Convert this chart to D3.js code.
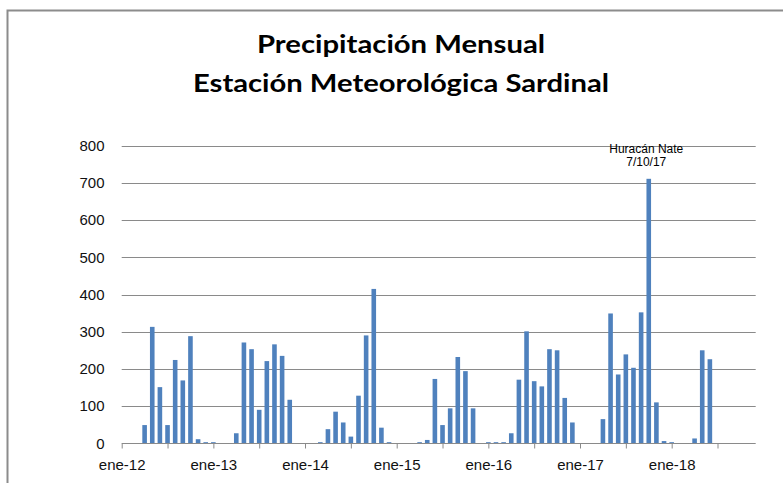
<!DOCTYPE html>
<html>
<head>
<meta charset="utf-8">
<script src="https://cdn.jsdelivr.net/npm/d3@7"></script>
<style>
  body { margin: 0; background: #fff; }
  svg { display: block; }
</style>
</head>
<body>
<svg id="canvas" width="783" height="483"></svg>
<script>
// Data: monthly rainfall (mm) from ene-12 to jun-18
let years = ["12", "13", "14", "15", "16", "17", "18"];
let monthNames = ["ene", "feb", "mar", "abr", "may", "jun", "jul", "ago", "sep", "oct", "nov", "dic"];

let rain2012 = [0, 0, 0, 49, 313, 151, 49, 224, 169, 288, 11, 3];
let rain2013 = [3, 0, 0, 27, 271, 253, 90, 221, 266, 235, 117, 0];
let rain2014 = [0, 0, 3, 38, 85, 56, 18, 128, 290, 415, 42, 3];
let rain2015 = [0, 0, 0, 3, 9, 173, 49, 94, 232, 194, 94, 0];
let rain2016 = [3, 3, 3, 27, 171, 301, 167, 153, 253, 250, 122, 56];
let rain2017 = [0, 0, 0, 65, 349, 185, 239, 203, 352, 711, 110, 6];
let rain2018 = [3, 0, 0, 13, 250, 226];

let yTicks = [0, 100, 200, 300, 400, 500, 600, 700, 800];

let titleLines = ["Precipitación Mensual", "Estación Meteorológica Sardinal"];
let noteLines = ["Huracán Nate", "7/10/17"];
let noteMonth = "oct-17";

// build month table
let values = [];
[rain2012, rain2013, rain2014, rain2015, rain2016, rain2017, rain2018].forEach((arr, yi) => {
  arr.forEach((v, mi) => {
    values.push({ label: monthNames[mi] + "-" + years[yi], index: yi * 12 + mi, value: v });
  });
});

let width = 783;
let height = 483;
let plotLeft = 121.7;
let plotRight = 755.7;
let plotTop = 145.7;
let plotBottom = 443.3;
let barWidth = 4.6;
let gridColor = "#8a8a8a";

let canvas = d3.select("#canvas");

let xScale = d3.scaleLinear().domain([0, 83]).range([plotLeft, plotRight]);
let yScale = d3.scaleLinear().domain([0, 800]).range([plotBottom, plotTop]);

// frame
canvas.append("path")
  .attr("d", `M7.5,${height} L7.5,10.5 L${width},10.5`)
  .attr("fill", "none")
  .attr("stroke", "#8c8c8c")
  .attr("stroke-width", 2);

// title
canvas.append("g")
  .selectAll("text")
  .data(titleLines)
  .enter()
  .append("text")
  .attr("x", 401)
  .attr("y", (d, i) => i === 0 ? 53.3 : 91.7)
  .attr("text-anchor", "middle")
  .attr("font-family", "Lato, 'Open Sans', sans-serif")
  .attr("font-weight", "bold")
  .attr("font-size", 24.5)
  .attr("textLength", (d, i) => i === 0 ? 288 : 416)
  .attr("lengthAdjust", "spacingAndGlyphs")
  .attr("fill", "#000")
  .text(d => d);

// gridlines
canvas.append("g")
  .selectAll("line")
  .data(yTicks.filter(d => d > 0))
  .enter()
  .append("line")
  .attr("x1", plotLeft)
  .attr("x2", plotRight)
  .attr("y1", d => Math.round(yScale(d)) + 0.5)
  .attr("y2", d => Math.round(yScale(d)) + 0.5)
  .attr("stroke", gridColor)
  .attr("stroke-width", 1);

// y labels
canvas.append("g")
  .selectAll("text")
  .data(yTicks)
  .enter()
  .append("text")
  .attr("x", 104.5)
  .attr("y", d => yScale(d))
  .attr("dy", "0.35em")
  .attr("text-anchor", "end")
  .attr("font-family", "'Liberation Sans', Arial, sans-serif")
  .attr("font-size", 15)
  .attr("fill", "#111")
  .text(d => d);

// bars
canvas.append("g")
  .selectAll("rect")
  .data(values.filter(d => d.value > 0))
  .enter()
  .append("rect")
  .attr("x", d => xScale(d.index) - barWidth / 2)
  .attr("y", d => yScale(d.value))
  .attr("width", barWidth)
  .attr("height", d => yScale(0) - yScale(d.value))
  .attr("fill", "#4f81bd");

// x axis
let xAxis = d3.axisBottom(xScale)
  .tickValues(d3.range(0, 84, 6))
  .tickSize(5)
  .tickFormat(d => d % 12 === 0 ? "ene-" + years[d / 12] : "");

let axisG = canvas.append("g")
  .attr("transform", `translate(0,${Math.round(plotBottom) + 0.5})`)
  .call(xAxis);

axisG.select(".domain")
  .attr("stroke", gridColor)
  .attr("d", `M${plotLeft},0H${plotRight}`);
axisG.selectAll(".tick line").attr("stroke", gridColor);
axisG.selectAll(".tick text")
  .attr("y", 16)
  .attr("font-family", "'Liberation Sans', Arial, sans-serif")
  .attr("font-size", 15)
  .attr("fill", "#111");

// annotation for the peak
let peak = values.find(d => d.label === noteMonth);
canvas.append("g")
  .selectAll("text")
  .data(noteLines)
  .enter()
  .append("text")
  .attr("x", xScale(peak.index) - 2.5)
  .attr("y", (d, i) => 153 + i * 13)
  .attr("text-anchor", "middle")
  .attr("font-family", "'Liberation Sans', Arial, sans-serif")
  .attr("font-size", 12)
  .attr("fill", "#000")
  .text(d => d);
</script>
</body>
</html>
